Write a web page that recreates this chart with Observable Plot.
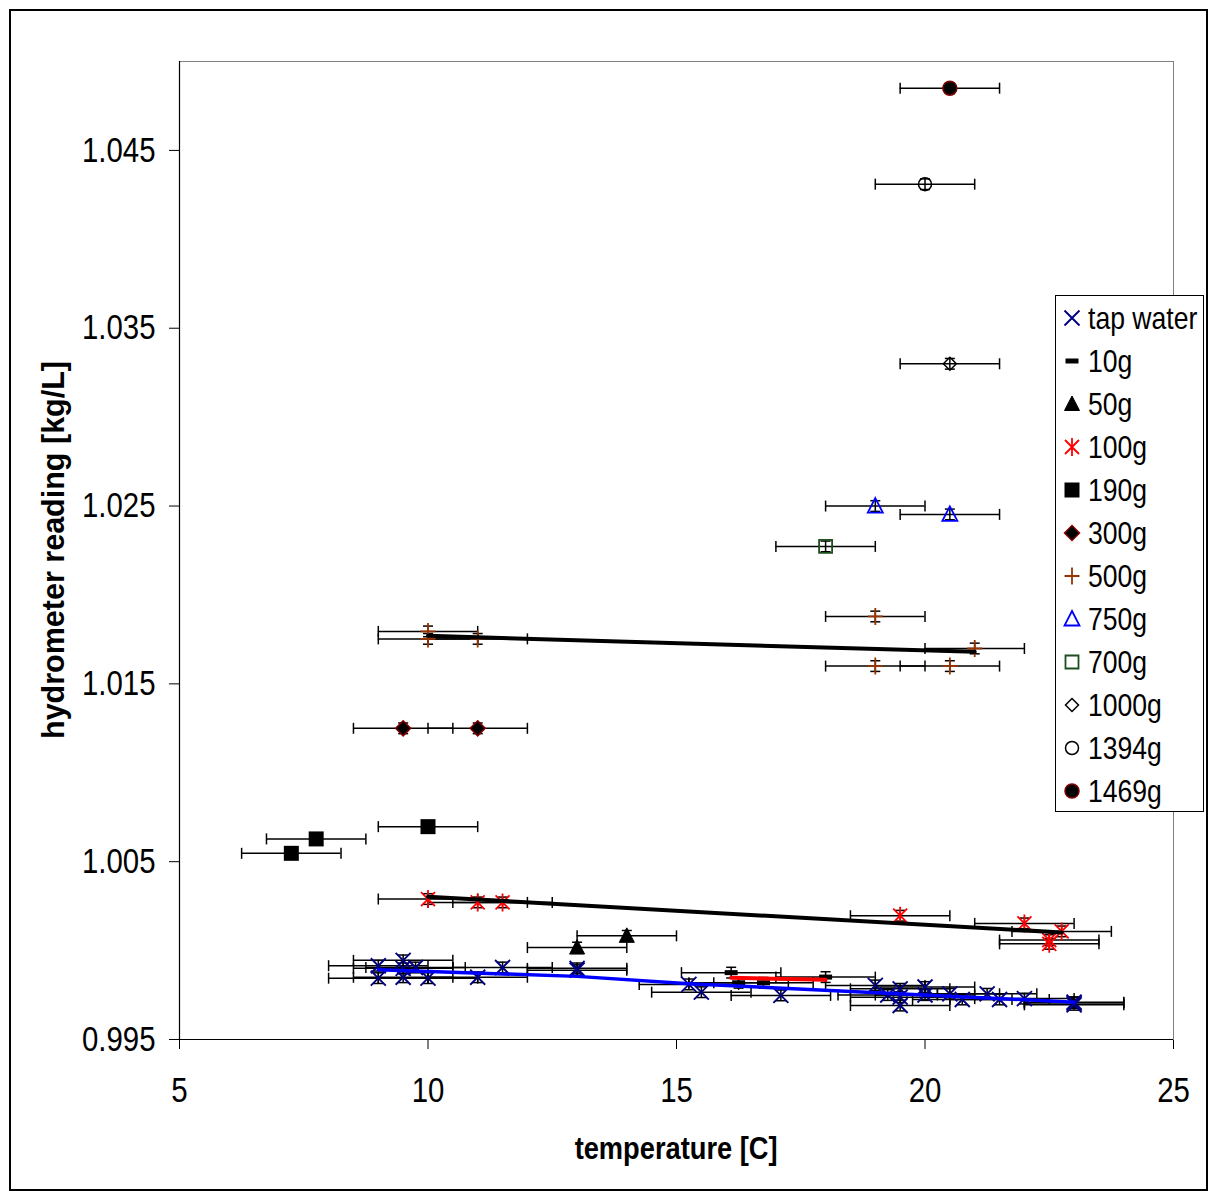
<!DOCTYPE html>
<html><head><meta charset="utf-8">
<script src="https://cdn.jsdelivr.net/npm/d3@7"></script>
<script src="https://cdn.jsdelivr.net/npm/@observablehq/plot@0.6"></script>
<style>
body{margin:0;background:#fff;}
#wrap{position:relative;width:1217px;height:1196px;overflow:hidden;font-family:"Liberation Sans",Arial,sans-serif;color:#000;}
#wrap svg.plotsvg{position:absolute;left:0;top:0;}
#frame{position:absolute;left:9px;top:9px;width:1195px;height:1178px;border:2px solid #000;}
#legend{position:absolute;left:1055px;top:295px;width:147px;height:515px;border:1px solid #000;background:#fff;}
.row{position:absolute;height:40px;line-height:40px;font-size:32px;white-space:nowrap;}
.row span{display:inline-block;transform:scaleX(0.83);transform-origin:left center;}
.title{position:absolute;font-weight:bold;font-size:32px;white-space:nowrap;line-height:40px;height:40px;}
</style></head>
<body><div id="wrap"><div id="frame"></div></div>
<script>
// ---------- data ----------
const xTicks = [5, 10, 15, 20, 25];
const yTicks = [0.995, 1.005, 1.015, 1.025, 1.035, 1.045];
const XERR = 1;        // temperature uncertainty [C]
const YERR = 0.0003;   // hydrometer uncertainty

const tapWater = [[9,0.99915],[9,0.99845],[9.5,0.99945],[9.5,0.99900],[9.5,0.99850],[9.75,0.99905],
  [10,0.99845],[11,0.99850],[11.5,0.99905],[13,0.99900],[13,0.99890],[15.25,0.99810],[15.5,0.99766],
  [17.1,0.99748],[19,0.99804],[19.25,0.99750],[19.5,0.99785],[19.5,0.99738],[19.5,0.99691],
  [20,0.99795],[20,0.99750],[20.5,0.99757],[20.75,0.99725],[21.25,0.99757],[21.5,0.99725],
  [22,0.99730],[23,0.99710],[23,0.99695],[23,0.99705]];
const g10 = [[16.1,0.99876],[16.25,0.99819],[16.75,0.99819],[18,0.99851]];
const g50 = [[13,1.00017],[14,1.00083]];
const g100 = [[10,1.0029],[11,1.00271],[11.5,1.00271],[19.5,1.00196],[22,1.00153],[22.75,1.00108],[22.5,1.00059],[22.5,1.00038]];
const g190 = [[7.25,1.00547],[7.75,1.00628],[10,1.00697]];
const g300 = [[9.5,1.0125],[11,1.0125]];
const g500 = [[10,1.01795],[10,1.01753],[11,1.01753],[19,1.01879],[21,1.01699],[19,1.0160],[20.5,1.0160]];
const g750 = [[19,1.0250],[20.5,1.02453]];
const g700 = [[18,1.02273]];
const g1000 = [[20.5,1.0330]];
const g1394 = [[20,1.0431]];
const g1469 = [[20.5,1.0485]];

// trend lines
const trendTap = [[9,0.99892],[13,0.99855],[15.25,0.99814],[23,0.99710]];
const trend10 = [[16.1,0.99847],[18,0.99836]];
const trend100 = [[10,1.00303],[22.75,1.00102]];
const trend500 = [[10,1.0177],[21,1.0168]];

// ---------- symbols (pixel sized) ----------
const sym = f => ({draw: c => f(c)});
const symTimes = sym(c => {const r=7.5; c.moveTo(-r,-r); c.lineTo(r,r); c.moveTo(-r,r); c.lineTo(r,-r);});
const symStar = sym(c => {const r=7; c.moveTo(-r,-r); c.lineTo(r,r); c.moveTo(-r,r); c.lineTo(r,-r); c.moveTo(0,-9); c.lineTo(0,9);});
const symDash = sym(c => c.rect(-6.5,-2.5,13,5));
const symTri = sym(c => {c.moveTo(0,-8); c.lineTo(7.5,6.5); c.lineTo(-7.5,6.5); c.closePath();});
const symSquare = sym(c => c.rect(-7.5,-7.5,15,15));
const symSquareO = sym(c => c.rect(-6.5,-6.5,13,13));
const symDiamond = sym(c => {c.moveTo(0,-7.5); c.lineTo(7.5,0); c.lineTo(0,7.5); c.lineTo(-7.5,0); c.closePath();});
const symDiamondS = sym(c => {c.moveTo(0,-6.5); c.lineTo(6.5,0); c.lineTo(0,6.5); c.lineTo(-6.5,0); c.closePath();});
const symPlus = sym(c => {c.moveTo(-7.5,0); c.lineTo(7.5,0); c.moveTo(0,-8.5); c.lineTo(0,8.5);});
const symCircle = sym(c => {c.moveTo(6.5,0); c.arc(0,0,6.5,0,2*Math.PI);});
const symCircleF = sym(c => {c.moveTo(7,0); c.arc(0,0,7,0,2*Math.PI);});
const capV = sym(c => {c.moveTo(0,-5.5); c.lineTo(0,5.5);});
const capH = sym(c => {c.moveTo(-5,0); c.lineTo(5,0);});

const series = [
  {name:"tap water", data:tapWater, symbol:symTimes, fill:"none", stroke:"#000080", sw:1.9},
  {name:"10g", data:g10, symbol:symDash, fill:"#000", stroke:"none", sw:0},
  {name:"50g", data:g50, symbol:symTri, fill:"#000", stroke:"#000", sw:1},
  {name:"100g", data:g100, symbol:symStar, fill:"none", stroke:"#ff0000", sw:1.8},
  {name:"190g", data:g190, symbol:symSquare, fill:"#000", stroke:"none", sw:0},
  {name:"300g", data:g300, symbol:symDiamond, fill:"#000", stroke:"#800000", sw:1.5},
  {name:"500g", data:g500, symbol:symPlus, fill:"none", stroke:"#993300", sw:1.8},
  {name:"750g", data:g750, symbol:symTri, fill:"none", stroke:"#0000ff", sw:1.8},
  {name:"700g", data:g700, symbol:symSquareO, fill:"none", stroke:"#1e4d1e", sw:1.8},
  {name:"1000g", data:g1000, symbol:symDiamondS, fill:"none", stroke:"#000", sw:1.5},
  {name:"1394g", data:g1394, symbol:symCircle, fill:"none", stroke:"#000", sw:1.5},
  {name:"1469g", data:g1469, symbol:symCircleF, fill:"#000", stroke:"#800000", sw:1.5}
];
const pts = series.flatMap(s => s.data.map(([x,y]) => ({x, y, s:s.name})));

const eb = {stroke:"#000", strokeWidth:1.5};
const marks = [
  Plot.frame({stroke:"#808080", strokeWidth:1}),
  Plot.ruleX([xTicks[0]], {stroke:"#000", strokeWidth:1.2}),
  Plot.ruleY([yTicks[0]], {stroke:"#000", strokeWidth:1.2}),
  // x error bars
  Plot.ruleY(pts, {y:"y", x1:d=>d.x-XERR, x2:d=>d.x+XERR, ...eb}),
  Plot.dot(pts, {x:d=>d.x-XERR, y:"y", symbol:capV, fill:"none", ...eb}),
  Plot.dot(pts, {x:d=>d.x+XERR, y:"y", symbol:capV, fill:"none", ...eb}),
];
// markers and y error bars per series
for (const s of series) {
  marks.push(Plot.ruleX(s.data, {x:d=>d[0], y1:d=>d[1]-YERR, y2:d=>d[1]+YERR, ...eb}));
  marks.push(Plot.dot(s.data, {x:d=>d[0], y:d=>d[1]-YERR, symbol:capH, fill:"none", ...eb}));
  marks.push(Plot.dot(s.data, {x:d=>d[0], y:d=>d[1]+YERR, symbol:capH, fill:"none", ...eb}));
  marks.push(Plot.dot(s.data, {x:d=>d[0], y:d=>d[1], symbol:s.symbol, fill:s.fill, stroke:s.stroke, strokeWidth:s.sw}));
}
marks.push(
  Plot.line(trendTap, {x:d=>d[0], y:d=>d[1], stroke:"#0000ff", strokeWidth:3.5}),
  Plot.line(trend10, {x:d=>d[0], y:d=>d[1], stroke:"#ff0000", strokeWidth:4}),
  Plot.line(trend100, {x:d=>d[0], y:d=>d[1], stroke:"#000", strokeWidth:4}),
  Plot.line(trend500, {x:d=>d[0], y:d=>d[1], stroke:"#000", strokeWidth:4})
);

const svg = Plot.plot({
  width:1217, height:1196,
  marginLeft:179, marginRight:44, marginTop:61, marginBottom:157,
  style:{fontFamily:"'Liberation Sans', Arial, sans-serif", fontSize:"35px", color:"#000", background:"transparent", overflow:"visible"},
  x:{domain:[5,25], ticks:xTicks, tickSize:10, tickPadding:28, label:null},
  y:{domain:[0.995,1.05], ticks:yTicks, tickFormat:d3.format(".3f"), tickSize:10, tickPadding:14, label:null},
  marks
});
svg.classList.add("plotsvg");
const wrap = document.getElementById("wrap");
wrap.insertBefore(svg, wrap.firstChild);

// condensed tick labels
svg.querySelectorAll("text").forEach(t => {
  t.style.fontSize = "35px";
  t.style.fill = "#000";
  const L = t.getComputedTextLength();
  t.setAttribute("textLength", (L*0.84).toFixed(1));
  t.setAttribute("lengthAdjust", "spacingAndGlyphs");
});

// ---------- legend ----------
const legend = document.createElement("div");
legend.id = "legend";
wrap.appendChild(legend);
series.forEach((s, i) => {
  const cy = 23 + 43*i;
  const p = d3.path(); s.symbol.draw(p, 0);
  const ns = "http://www.w3.org/2000/svg";
  const m = document.createElementNS(ns, "svg");
  m.setAttribute("width", 24); m.setAttribute("height", 24);
  m.style.position = "absolute"; m.style.left = (17-12-1)+"px"; m.style.top = (cy-12-1)+"px";
  const path = document.createElementNS(ns, "path");
  path.setAttribute("d", p.toString());
  path.setAttribute("transform", "translate(12,12)");
  path.setAttribute("fill", s.fill);
  path.setAttribute("stroke", s.stroke);
  path.setAttribute("stroke-width", s.sw);
  m.appendChild(path);
  legend.appendChild(m);
  const row = document.createElement("div");
  row.className = "row";
  row.style.left = (1088-1056)+"px";
  row.style.top = (cy-20-1)+"px";
  const sp = document.createElement("span");
  sp.textContent = s.name;
  row.appendChild(sp);
  legend.appendChild(row);
});

// ---------- axis titles ----------
function title(text, cx, cy, target, rotate) {
  const d = document.createElement("div");
  d.className = "title";
  d.textContent = text;
  wrap.appendChild(d);
  const w = d.getBoundingClientRect().width;
  const k = target / w;
  d.style.left = (cx - w/2) + "px";
  d.style.top = (cy - 20) + "px";
  d.style.transformOrigin = "center center";
  d.style.transform = (rotate ? "rotate(-90deg) " : "") + `scaleX(${k})`;
}
title("temperature [C]", 676, 1148, 203, false);
title("hydrometer reading [kg/L]", 53, 550, 378, true);
</script>
</body></html>
